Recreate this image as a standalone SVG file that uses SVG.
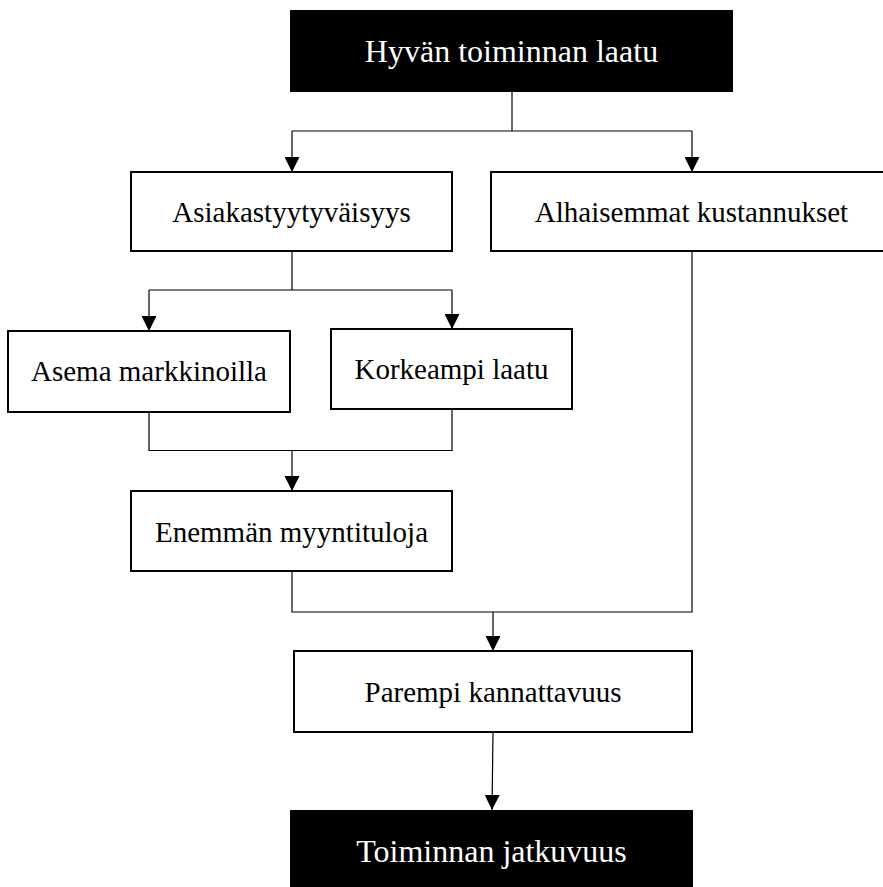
<svg xmlns="http://www.w3.org/2000/svg" width="883" height="887" viewBox="0 0 883 887">
  <style>
    .box { fill: #ffffff; stroke: #000000; stroke-width: 2; }
    .dark { fill: #000000; stroke: none; }
    .label { font-family: "Liberation Serif", "Times New Roman", serif; font-size: 29px; fill: #000000; text-anchor: middle; }
    .title { font-family: "Liberation Serif", "Times New Roman", serif; font-size: 32px; fill: #ffffff; text-anchor: middle; }
    .wire { fill: none; stroke: #000000; stroke-width: 1.2; }
    .arrow { marker-end: url(#head); }
  </style>
  <defs>
    <marker id="head" viewBox="0 0 15 15" refX="15" refY="7.5" markerWidth="15" markerHeight="15" markerUnits="userSpaceOnUse" orient="auto">
      <path d="M0,0 L15,7.5 L0,15 Z" fill="#000000"/>
    </marker>
  </defs>
  <rect width="883" height="887" fill="#ffffff"/>

  <g id="connectors">
    <!-- from the top box to the two first-level boxes -->
    <path class="wire" d="M512,92 V131"/>
    <path class="wire" d="M292,131 H692"/>
    <path class="wire arrow" d="M292,131 V172"/>
    <path class="wire arrow" d="M692,131 V172"/>
    <!-- customer satisfaction splits in two -->
    <path class="wire" d="M292,251 V290"/>
    <path class="wire" d="M149,290 H452"/>
    <path class="wire arrow" d="M149,290 V331"/>
    <path class="wire arrow" d="M452,290 V329"/>
    <!-- market position and higher quality merge -->
    <path class="wire" d="M149,412 V450.5 H452 V409"/>
    <path class="wire arrow" d="M292,450.5 V491"/>
    <!-- sales revenue and lower costs merge -->
    <path class="wire" d="M292,571 V612 H692 V251"/>
    <path class="wire arrow" d="M493,612 V651"/>
    <!-- profitability to continuity -->
    <path class="wire arrow" d="M493,732 L492,810"/>
  </g>

  <g id="hyvan-toiminnan-laatu">
    <rect class="dark" x="290" y="10" width="443" height="82"/>
    <text class="title" x="511.5" y="62">Hyvän toiminnan laatu</text>
  </g>

  <g id="asiakastyytyvaisyys">
    <rect class="box" x="131" y="172" width="321" height="79"/>
    <text class="label" x="291.5" y="222">Asiakastyytyväisyys</text>
  </g>

  <g id="alhaisemmat-kustannukset">
    <rect class="box" x="491" y="172" width="401" height="79"/>
    <text class="label" x="691.5" y="222">Alhaisemmat kustannukset</text>
  </g>

  <g id="asema-markkinoilla">
    <rect class="box" x="8" y="331" width="282" height="81"/>
    <text class="label" x="149" y="381">Asema markkinoilla</text>
  </g>

  <g id="korkeampi-laatu">
    <rect class="box" x="331" y="329" width="241" height="80"/>
    <text class="label" x="451.5" y="379">Korkeampi laatu</text>
  </g>

  <g id="enemman-myyntituloja">
    <rect class="box" x="131" y="491" width="321" height="80"/>
    <text class="label" x="291.5" y="541.5">Enemmän myyntituloja</text>
  </g>

  <g id="parempi-kannattavuus">
    <rect class="box" x="294" y="651" width="398" height="81"/>
    <text class="label" x="493" y="701.5">Parempi kannattavuus</text>
  </g>

  <g id="toiminnan-jatkuvuus">
    <rect class="dark" x="290" y="810" width="403" height="82"/>
    <text class="title" x="491.5" y="862">Toiminnan jatkuvuus</text>
  </g>
</svg>
